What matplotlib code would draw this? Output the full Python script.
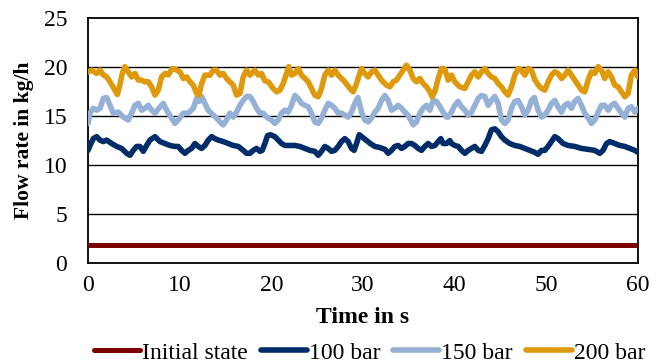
import matplotlib
matplotlib.use("Agg")
import matplotlib.pyplot as plt

# ---------------- data ----------------
t_init = [0, 60]
v_init = [1.8, 1.8]

t_100 = [0.0, 0.22, 0.58, 0.95, 1.31, 1.67, 2.04, 2.58, 3.13, 3.67, 4.22, 4.58, 4.94, 5.31, 5.67,
         6.03, 6.40, 6.76, 7.31, 7.85, 8.40, 8.94, 9.49, 9.85, 10.21, 10.58, 10.94, 11.30, 11.67,
         12.03, 12.40, 12.76, 13.12, 13.49, 13.85, 14.21, 14.76, 15.30, 15.85, 16.40, 16.94, 17.30,
         17.67, 18.03, 18.39, 18.76, 19.01, 19.30, 19.59, 19.90, 20.39, 20.75, 21.12, 21.48, 22.02,
         22.57, 23.12, 23.66, 24.21, 24.75, 25.12, 25.48, 25.84, 26.21, 26.57, 26.93, 27.30, 27.66,
         28.02, 28.39, 28.75, 29.04, 29.30, 29.60, 30.00, 30.40, 30.80, 31.30, 31.80, 32.40, 32.75,
         33.12, 33.48, 33.84, 34.21, 34.57, 34.93, 35.30, 35.66, 36.03, 36.39, 36.75, 37.12, 37.48,
         37.84, 38.21, 38.50, 38.75, 39.12, 39.48, 39.66, 40.02, 40.39, 40.75, 41.12, 41.48, 41.84,
         42.21, 42.57, 42.93, 43.30, 43.66, 44.02, 44.39, 44.75, 45.11, 45.48, 46.02, 46.57, 47.11,
         47.66, 48.20, 48.75, 49.11, 49.48, 49.84, 50.20, 50.57, 50.93, 51.29, 51.84, 52.38, 53.11,
         53.84, 54.57, 55.29, 55.84, 56.20, 56.57, 56.93, 57.47, 58.02, 58.57, 59.11, 59.66, 60.0]
v_100 = [11.5, 12.0, 12.7, 12.9, 12.55, 12.4, 12.55, 12.2, 11.9, 11.7, 11.2, 11.0, 11.5, 11.9, 11.9,
         11.4, 12.0, 12.55, 12.9, 12.4, 12.2, 12.0, 11.9, 11.9, 11.5, 11.2, 11.5, 11.7, 12.2,
         11.9, 11.7, 12.0, 12.55, 12.9, 12.7, 12.55, 12.4, 12.2, 12.0, 11.9, 11.5, 11.2,
         11.2, 11.5, 11.7, 11.4, 11.5, 12.2, 13.0, 13.1, 12.9, 12.55, 12.2, 12.0, 12.0,
         12.0, 11.9, 11.7, 11.5, 11.4, 11.0, 11.4, 11.9, 11.7, 11.4, 11.5, 11.9, 12.4,
         12.7, 12.4, 11.7, 11.5, 12.2, 13.1, 12.8, 12.5, 12.2, 11.9, 11.8, 11.6, 11.2,
         11.5, 11.9, 12.0, 11.7, 11.9, 12.2, 12.2, 12.0, 11.7, 11.5, 11.9, 12.2, 11.9,
         12.0, 12.4, 12.7, 12.2, 12.2, 12.5, 12.2, 12.0, 11.9, 11.5, 11.2, 11.5, 11.7,
         11.9, 11.5, 11.4, 12.0, 12.7, 13.6, 13.7, 13.4, 12.9, 12.55, 12.2, 12.0, 11.9,
         11.7, 11.5, 11.3, 11.1, 11.5, 11.5, 11.9, 12.4, 12.9, 12.7, 12.2, 12.0, 11.9,
         11.7, 11.6, 11.5, 11.2, 11.5, 12.2, 12.4, 12.2, 12.0, 11.9, 11.7, 11.5, 11.3]

t_150 = [0.0, 0.22, 0.58, 0.95, 1.31, 1.67, 2.04, 2.40, 2.76, 3.31, 3.85, 4.40, 4.76, 5.13, 5.49,
         5.85, 6.22, 6.58, 6.94, 7.31, 7.74, 8.22, 8.58, 9.12, 9.49, 9.85, 10.40, 10.94, 11.49,
         11.85, 12.11, 12.40, 12.76, 13.12, 13.67, 14.03, 14.40, 14.76, 15.12, 15.49, 15.85, 16.21,
         16.58, 16.94, 17.30, 17.67, 18.03, 18.39, 18.76, 19.12, 19.49, 20.03, 20.39, 20.75, 21.12,
         21.48, 21.84, 22.21, 22.57, 22.93, 23.30, 23.66, 24.03, 24.39, 24.75, 25.12, 25.48, 25.84,
         26.21, 26.57, 26.93, 27.30, 27.66, 28.02, 28.39, 28.75, 29.12, 29.45, 29.85, 30.21, 30.57,
         30.94, 31.30, 31.66, 32.03, 32.39, 32.75, 33.12, 33.48, 33.84, 34.21, 34.57, 34.93, 35.48,
         35.84, 36.21, 36.57, 36.94, 37.30, 37.66, 38.03, 38.39, 38.75, 39.12, 39.30, 39.66, 40.02,
         40.39, 40.75, 41.12, 41.48, 41.84, 42.21, 42.57, 42.93, 43.30, 43.66, 44.02, 44.39, 44.75,
         45.11, 45.48, 45.84, 46.20, 46.57, 46.93, 47.29, 47.66, 48.02, 48.38, 48.70, 49.11, 49.48,
         49.84, 50.20, 50.57, 50.93, 51.29, 51.66, 52.02, 52.38, 52.75, 53.11, 53.47, 53.84, 54.20,
         54.57, 54.93, 55.29, 55.66, 56.02, 56.38, 56.75, 57.11, 57.47, 57.84, 58.20, 58.57, 58.93,
         59.29, 59.66, 60.0]
v_150 = [14.25, 15.3, 15.8, 15.6, 15.8, 16.8, 16.9, 16.1, 15.3, 15.4, 14.9, 14.6, 15.3, 16.1, 16.3,
         15.6, 15.8, 16.1, 15.6, 15.3, 15.8, 16.3, 15.6, 14.8, 14.25, 14.6, 15.3, 15.3, 15.8,
         16.8, 16.5, 17.0, 16.3, 15.6, 15.1, 14.8, 14.4, 14.1, 14.6, 15.3, 14.9, 15.4,
         16.1, 16.6, 17.0, 17.0, 16.5, 15.8, 15.3, 15.3, 14.9, 14.6, 14.25, 14.6, 15.3,
         15.6, 15.4, 16.1, 17.1, 16.8, 16.3, 16.1, 15.95, 15.3, 14.4, 14.25, 14.8, 15.6,
         16.3, 16.1, 15.8, 15.3, 15.3, 15.1, 14.9, 15.4, 16.3, 16.9, 15.4, 14.6, 14.4,
         14.8, 15.4, 15.8, 16.6, 17.1, 16.6, 15.6, 15.8, 16.1, 15.8, 15.4, 15.1, 14.1,
         14.4, 15.3, 15.8, 16.1, 15.6, 16.6, 16.5, 15.95, 15.4, 14.9, 14.9, 15.4, 16.1,
         16.5, 15.95, 15.6, 15.1, 15.4, 16.1, 16.8, 17.1, 17.0, 16.1, 16.6, 17.0, 16.3,
         14.6, 14.25, 14.6, 15.8, 16.5, 16.6, 15.95, 15.1, 15.6, 16.6, 16.9, 15.6, 14.9,
         15.1, 15.6, 16.3, 16.6, 15.95, 15.4, 16.1, 16.3, 15.8, 16.5, 16.8, 16.1, 15.3,
         14.8, 14.25, 14.6, 15.4, 16.1, 16.1, 15.6, 16.1, 16.3, 15.8, 15.3, 14.9, 15.8,
         15.95, 15.4, 15.8]

t_200 = [0.0, 0.40, 0.95, 1.31, 1.67, 2.04, 2.40, 2.94, 3.20, 3.49, 3.74, 4.03, 4.40, 4.76, 5.13,
         5.49, 5.85, 6.22, 6.58, 6.94, 7.31, 7.67, 8.03, 8.40, 8.76, 9.20, 9.50, 10.03, 10.40,
         10.76, 11.13, 11.49, 11.85, 12.11, 12.40, 12.76, 13.31, 13.67, 14.03, 14.40, 14.76, 15.12,
         15.49, 15.85, 16.21, 16.58, 16.94, 17.30, 17.67, 18.21, 18.58, 18.94, 19.30, 19.67, 20.21,
         20.57, 20.94, 21.30, 21.66, 21.92, 22.21, 22.57, 22.94, 23.30, 23.66, 24.03, 24.39, 24.75,
         25.12, 25.48, 25.84, 26.21, 26.57, 26.93, 27.30, 27.66, 28.02, 28.57, 28.93, 29.30, 29.66,
         29.85, 30.21, 30.57, 30.94, 31.30, 31.66, 32.03, 32.57, 32.94, 33.30, 33.66, 34.03, 34.39,
         34.75, 35.12, 35.48, 35.84, 36.21, 36.57, 36.94, 37.30, 37.55, 37.84, 38.21, 38.57, 38.93,
         39.30, 39.66, 40.02, 40.57, 41.12, 41.48, 41.84, 42.21, 42.57, 42.93, 43.30, 43.66, 44.02,
         44.39, 44.75, 45.11, 45.48, 45.84, 46.20, 46.57, 46.93, 47.29, 47.66, 48.02, 48.38, 48.75,
         49.11, 49.48, 49.84, 50.20, 50.57, 50.93, 51.29, 51.66, 52.02, 52.38, 52.75, 53.11, 53.47,
         53.84, 54.20, 54.57, 54.93, 55.29, 55.66, 56.02, 56.38, 56.75, 57.11, 57.47, 57.84, 58.20,
         58.57, 58.93, 59.29, 59.66, 60.0]
v_200 = [19.5, 19.7, 19.35, 19.7, 19.2, 19.0, 18.5, 17.65, 17.2, 18.2, 19.35, 20.05, 19.5, 19.0, 19.35,
         18.67, 18.67, 18.5, 18.5, 18.0, 17.14, 17.65, 19.0, 19.35, 19.2, 19.86, 19.8, 19.52, 18.84,
         19.0, 18.5, 18.16, 17.31, 17.14, 18.33, 19.18, 19.18, 19.69, 19.69, 19.18, 19.35, 18.84,
         18.5, 18.16, 17.14, 17.31, 19.0, 19.69, 19.18, 19.69, 19.18, 19.35, 18.6, 18.5, 17.82,
         17.48, 17.65, 18.33, 19.35, 20.05, 19.18, 19.35, 19.86, 19.18, 18.84, 18.5, 17.82, 17.14,
         16.97, 17.82, 19.18, 19.69, 19.18, 19.69, 19.18, 18.84, 18.5, 17.82, 17.48, 18.33, 19.4,
         19.86, 19.35, 19.0, 19.52, 19.69, 19.18, 18.67, 18.16, 17.99, 18.5, 18.67, 19.18, 19.69,
         20.2, 19.69, 18.84, 18.5, 18.84, 18.33, 17.99, 17.48, 16.97, 17.48, 18.84, 19.86, 19.8,
         18.67, 19.18, 18.5, 17.99, 17.82, 18.5, 19.18, 19.52, 19.0, 19.52, 19.86, 19.35, 19.0,
         18.84, 18.33, 17.99, 17.48, 17.14, 17.99, 19.18, 19.86, 19.69, 19.18, 19.86, 19.69, 18.7,
         18.2, 17.82, 17.65, 18.5, 19.18, 19.52, 19.35, 18.84, 19.18, 19.69, 19.18, 18.67, 18.16,
         17.65, 17.48, 18.67, 19.52, 19.35, 20.05, 19.69, 18.84, 19.52, 19.0, 18.16, 17.99, 17.48,
         16.97, 17.31, 19.18, 19.69, 19.0]

x_ticks = [0, 10, 20, 30, 40, 50, 60]
y_ticks = [0, 5, 10, 15, 20, 25]
labels = ["Initial state", "100 bar", "150 bar", "200 bar"]
colors = ["#7B0000", "#002D6A", "#95B1D6", "#DE9A0C"]

# ---------------- plot ----------------
plt.rcParams['font.family'] = ['Liberation Serif', 'DejaVu Serif']
fig = plt.figure(figsize=(6.59, 3.63), dpi=100)
ax = fig.add_axes([0.1335, 0.2755, 0.8345, 0.6745])

for y in [5, 10, 15, 20]:
    ax.axhline(y, color='black', lw=1.0, zorder=1)

kw = dict(solid_joinstyle='round', solid_capstyle='round', zorder=3)
ax.plot(t_init, v_init, color=colors[0], lw=3.6, label=labels[0], **kw)
ax.plot(t_100, v_100, color=colors[1], lw=4.0, label=labels[1], **kw)
ax.plot(t_150, v_150, color=colors[2], lw=4.0, label=labels[2], **kw)
ax.plot(t_200, v_200, color=colors[3], lw=4.0, label=labels[3], **kw)

ax.set_xlim(0, 60)
ax.set_ylim(0, 25)
ax.set_xticks(x_ticks)
ax.set_yticks(y_ticks)
ax.tick_params(length=0, labelsize=17)
ax.tick_params(axis='y', pad=15)
ax.tick_params(axis='x', pad=9)
for s in ax.spines.values():
    s.set_color('black')
    s.set_linewidth(1.3)

ax.set_xlabel("Time in s", fontsize=17, fontweight='bold')
ax.xaxis.set_label_coords(0.5, -0.224)
ax.xaxis.label.set_va('center')
ax.set_ylabel("Flow rate in kg/h", fontsize=15.5, fontweight='bold')
ax.yaxis.set_label_coords(-0.116, 0.5)
ax.yaxis.label.set_va('center')

fig.legend(loc='center', bbox_to_anchor=(0.561, 0.028), ncol=4, frameon=False,
           fontsize=17, handlelength=1.95, handletextpad=0.08, columnspacing=0.55,
           borderaxespad=0, borderpad=0)

fig.savefig("out.png", dpi=100)
